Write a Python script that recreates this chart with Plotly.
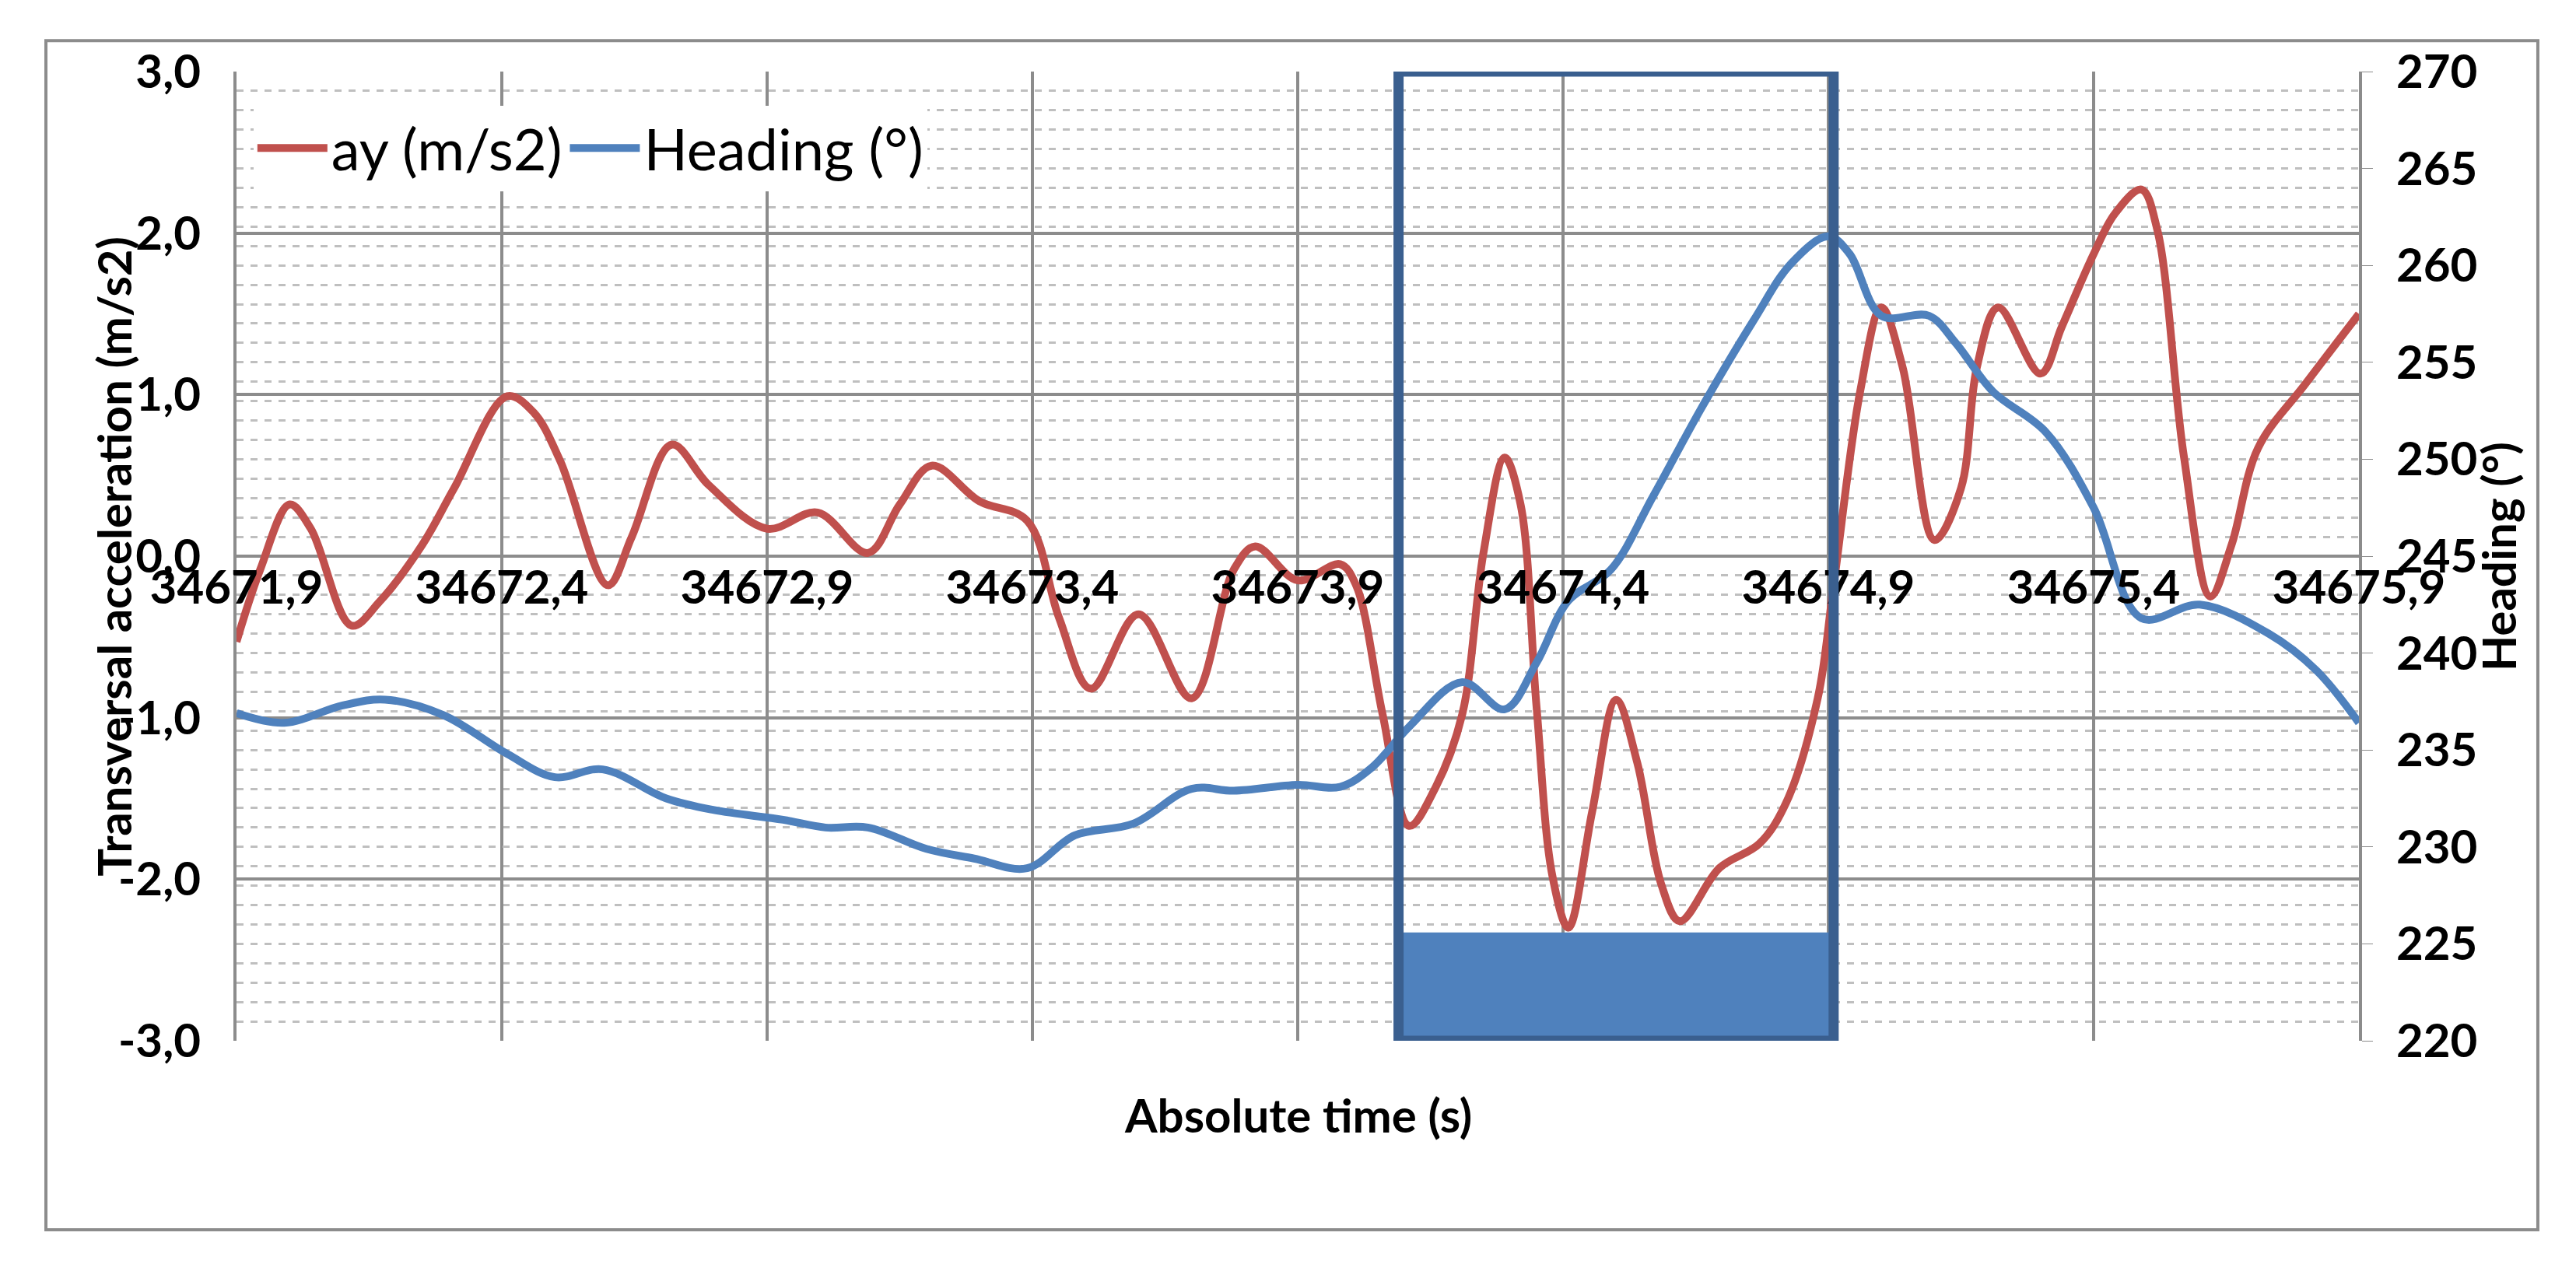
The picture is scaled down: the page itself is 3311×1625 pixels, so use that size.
import plotly.graph_objects as go

t_ay = [34671.9,34671.945,34672.0,34672.04,34672.117,34672.17,34672.25,34672.31,34672.41,34672.46,34672.51,34672.60,34672.645,34672.72,34672.79,34672.9,34672.995,34673.09,34673.15,34673.21,34673.3,34673.39,34673.45,34673.51,34673.6,34673.70,34673.78,34673.82,34673.90,34673.98,34674.01,34674.06,34674.11,34674.16,34674.21,34674.25,34674.29,34674.32,34674.35,34674.38,34674.41,34674.455,34674.50,34674.54,34674.585,34674.62,34674.695,34674.77,34674.82,34674.88,34674.91,34674.96,34675.0,34675.04,34675.10,34675.15,34675.18,34675.22,34675.30,34675.34,34675.40,34675.44,34675.49,34675.52,34675.57,34675.62,34675.66,34675.71,34675.80,34675.9]
ay = [-0.53,-0.08,0.32,0.17,-0.43,-0.28,0.07,0.42,0.99,0.89,0.59,-0.18,0.12,0.69,0.44,0.17,0.27,0.02,0.32,0.56,0.34,0.22,-0.38,-0.82,-0.36,-0.88,-0.08,0.06,-0.15,-0.05,-0.18,-0.98,-1.67,-1.43,-0.98,0.02,0.61,0.32,-0.93,-1.98,-2.30,-1.58,-0.89,-1.28,-2.03,-2.26,-1.93,-1.78,-1.53,-0.88,-0.18,1.02,1.54,1.17,0.10,0.42,1.17,1.54,1.13,1.42,1.87,2.12,2.27,2.02,0.62,-0.25,0.07,0.67,1.07,1.50]

t_hd = [34671.9,34671.99,34672.1,34672.18,34672.29,34672.41,34672.50,34672.59,34672.71,34672.80,34672.93,34673.01,34673.09,34673.20,34673.29,34673.39,34673.48,34673.59,34673.70,34673.78,34673.90,34673.98,34674.04,34674.11,34674.21,34674.29,34674.35,34674.41,34674.49,34674.57,34674.66,34674.76,34674.83,34674.90,34674.94,34675.0,34675.09,34675.14,34675.21,34675.31,34675.40,34675.49,34675.60,34675.73,34675.82,34675.9]
heading = [236.9,236.4,237.3,237.6,236.8,234.8,233.6,234.0,232.5,231.9,231.4,231.0,231.0,229.9,229.4,228.9,230.6,231.2,233.0,232.9,233.2,233.1,234.1,236.2,238.5,237.1,239.5,242.7,244.3,248.1,252.6,257.2,260.1,261.5,260.6,257.4,257.4,256.0,253.5,251.4,247.5,241.8,242.5,241.0,239.1,236.4]

x_ticks = [34671.9,34672.4,34672.9,34673.4,34673.9,34674.4,34674.9,34675.4,34675.9]
x_labels = ["34671,9","34672,4","34672,9","34673,4","34673,9","34674,4","34674,9","34675,4","34675,9"]
y_ticks = [-3,-2,-1,0,1,2,3]
y_labels = ["-3,0","-2,0","-1,0","0,0","1,0","2,0","3,0"]
h_ticks = [220,225,230,235,240,245,250,255,260,265,270]
box_x = [34674.09, 34674.91]
box_fill_top = -2.33

FONT = "Lato"
fig = go.Figure()
fig.add_trace(go.Scatter(x=t_ay, y=ay, name="ay (m/s2)", mode="lines",
                         line=dict(color="#C0504D", width=10, shape="spline")))
fig.add_trace(go.Scatter(x=t_hd, y=heading, name="Heading (°)", mode="lines", yaxis="y2",
                         line=dict(color="#4F81BD", width=10, shape="spline")))

fig.add_shape(type="rect", xref="x", yref="y", x0=box_x[0], x1=box_x[1], y0=-3, y1=box_fill_top,
              fillcolor="#4F81BD", line=dict(width=0), layer="above")
fig.add_shape(type="rect", xref="x", yref="y", x0=box_x[0], x1=box_x[1], y0=-3, y1=3,
              fillcolor="rgba(0,0,0,0)", line=dict(color="#3A5F8F", width=13), layer="above")
fig.add_shape(type="rect", xref="paper", yref="paper", x0=-0.0898, x1=1.0843, y0=-0.195, y1=1.032,
              line=dict(color="#8C8C8C", width=4))

tickfont = dict(family=FONT, size=60, color="black", weight="bold")
titlefont = dict(family=FONT, size=60, color="black", weight="bold")
fig.update_layout(
    width=3311, height=1625,
    margin=dict(l=296, r=287, t=84, b=295),
    paper_bgcolor="white", plot_bgcolor="white",
    font=dict(family=FONT, color="black"),
    showlegend=True,
    legend=dict(x=0.008, y=0.965, xanchor="left", yanchor="top", orientation="h",
                bgcolor="white", font=dict(family=FONT, size=74, color="black"),
                itemwidth=90),
    xaxis=dict(range=[34671.9, 34675.9], tickvals=x_ticks, ticktext=x_labels,
               anchor="free", position=0.5, showgrid=True, gridcolor="#8C8C8C", gridwidth=4,
               showline=False, zeroline=False, ticks="", tickfont=tickfont),
    yaxis=dict(range=[-3, 3], tickvals=y_ticks, ticktext=y_labels, showgrid=True,
               gridcolor="#8C8C8C", gridwidth=4, zeroline=True, zerolinecolor="#8C8C8C",
               zerolinewidth=4, showline=True, linecolor="#8C8C8C", linewidth=4,
               ticks="", ticklabelstandoff=30, tickfont=tickfont),
    yaxis2=dict(range=[220, 270], tickvals=h_ticks, overlaying="y", side="right",
                showgrid=True, gridcolor="#BFBFBF", gridwidth=3, griddash="dash",
                minor=dict(dtick=1, showgrid=True, gridcolor="#BFBFBF", gridwidth=3, griddash="dash"),
                showline=True, linecolor="#8C8C8C", linewidth=4, ticks="outside",
                ticklen=14, tickcolor="#8C8C8C", ticklabelstandoff=18, tickfont=tickfont,
                zeroline=False),
    annotations=[
        dict(text="Transversal acceleration (m/s2)", xref="paper", yref="paper", x=-0.058, y=0.5,
             xanchor="center", yanchor="middle",
             textangle=-90, showarrow=False, font=titlefont),
        dict(text="Heading (°)", xref="paper", yref="paper", x=1.0656, y=0.5,
             xanchor="center", yanchor="middle",
             textangle=-90, showarrow=False, font=titlefont),
        dict(text="Absolute time (s)", xref="paper", yref="paper", x=0.5, y=-0.076,
             xanchor="center", yanchor="middle", showarrow=False, font=titlefont),
    ],
)
fig.write_html("out.html")
